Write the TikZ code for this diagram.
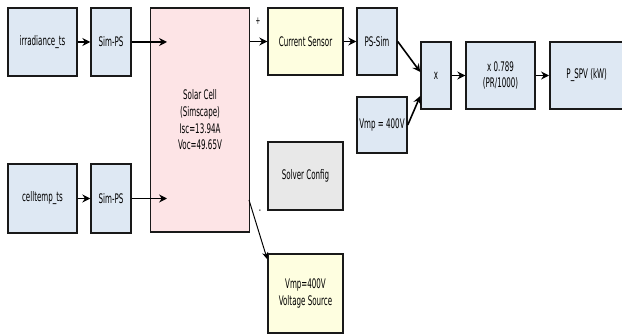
\documentclass[tikz,border=0pt]{standalone}
\usepackage{fontspec}
\setmainfont{DejaVu Sans}[FakeStretch=0.54]
\usepackage{tikz}
\usetikzlibrary{arrows.meta, positioning, calc}
\definecolor{simblue}{HTML}{DEE8F3}
\definecolor{cellpink}{HTML}{FDE4E6}
\definecolor{srcyellow}{HTML}{FEFEE0}
\definecolor{cfggray}{HTML}{E8E8E8}
\tikzstyle{block} = [rectangle,
draw=black!90,
line width=0.85pt,
text centered,
align=center,
inner sep=1pt,
font=\fontsize{7.5}{9.5}\selectfont]
\tikzstyle{signal} = [block, fill=simblue]
\tikzstyle{cell} = [block, fill=cellpink]
\tikzstyle{source} = [block, fill=srcyellow]
\tikzstyle{config} = [block, fill=cfggray]
\tikzstyle{arrow} = [line width=0.9pt,-{Stealth[length=4.5pt,width=4.5pt]}]
\tikzstyle{thin arrow} = [line width=0.55pt,-{Stealth[length=4pt,width=3.5pt]}]

\begin{document}
\begin{tikzpicture}[x=0.02cm, y=-0.02cm]
            \useasboundingbox (0,0) rectangle (622,334);
            % inputs
            \node (irr) [signal, minimum width=1.38cm, minimum height=1.36cm] at (42.5,42) {irradiance\_ts};
            \node (simpsA) [signal, minimum width=0.8cm, minimum height=1.36cm] at (111,42) {Sim-PS};
            \node (temp) [signal, minimum width=1.38cm, minimum height=1.38cm] at (42.5,198.5) {celltemp\_ts};
            \node (simpsB) [signal, minimum width=0.8cm, minimum height=1.38cm] at (111,198.5) {Sim-PS};
            % physical part
            \node (pv) [cell, minimum width=1.98cm, minimum height=4.48cm] at (200,120) {Solar Cell\\(Simscape)\\Isc=13.94A\\Voc=49.65V};
            \node (sensor) [source, minimum width=1.5cm, minimum height=1.34cm] at (305.5,41.5) {Current Sensor};
            \node (solver) [config, minimum width=1.5cm, minimum height=1.36cm] at (305.5,176) {Solver Config};
            \node (vsrc) [source, minimum width=1.5cm, minimum height=1.58cm] at (305.5,293.5) {Vmp=400V\\Voltage Source};
            % output chain
            \node (pssim) [signal, minimum width=0.8cm, minimum height=1.34cm] at (377,41.5) {PS-Sim};
            \node (vmp) [signal, minimum width=1.0cm, minimum height=1.12cm, inner sep=0pt] at (382,125) {Vmp = 400V};
            \node (mult) [signal, minimum width=0.6cm, minimum height=1.34cm] at (436,75.5) {x};
            \node (gain) [signal, minimum width=1.38cm, minimum height=1.34cm] at (500.5,75.5) {x 0.789\\(PR/1000)};
            \node (out) [signal, minimum width=1.62cm, minimum height=1.34cm, anchor=west] at (549,75.5) {\hspace*{-0.14cm}P\_SPV (kW)};

            \coordinate (inA) at (167,42);
            \coordinate (inB) at (167,198.5);
            \coordinate (minus) at (249,200);

            \draw [arrow] (irr) -- (simpsA);
            \draw [arrow] (simpsA) -- (inA);
            \draw [arrow] (temp) -- (simpsB);
            \draw [arrow] (simpsB) -- (inB);
            \draw [arrow] (pv.east |- sensor) -- node[above, pos=0.45, font=\fontsize{6}{6}\selectfont, yshift=6pt] {+} (sensor);
            \draw [arrow] (sensor) -- (pssim);
            \draw [thin arrow] (minus) -- node[right, pos=0.2, font=\fontsize{6}{6}\selectfont] {-} ($(vsrc.north west)+(0,6)$);
            \draw [arrow] (pssim.east) -- ($(mult.west)+(0,-3.5)$);
            \draw [arrow] (vmp.east) -- ($(mult.west)+(0,20.5)$);
            \draw [arrow] (mult) -- (gain);
            \draw [arrow] (gain) -- (out);
        \end{tikzpicture}
\end{document}
